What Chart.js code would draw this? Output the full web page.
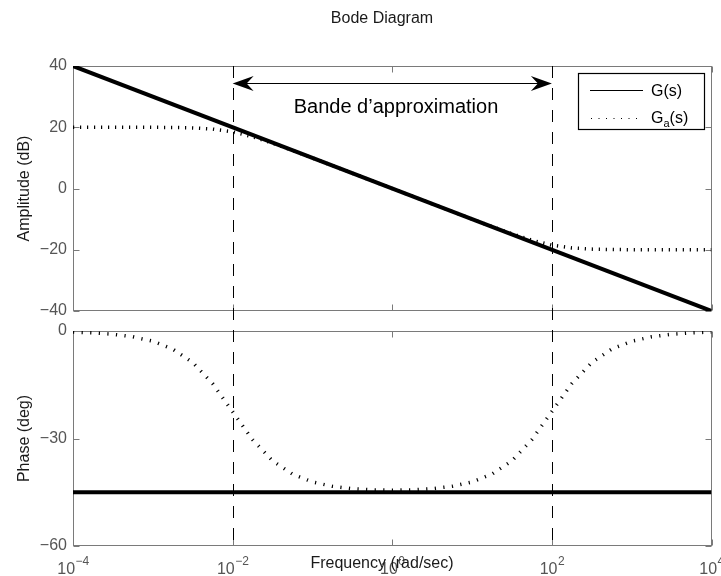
<!DOCTYPE html>
<html>
<head>
<meta charset="utf-8">
<title>Bode Diagram</title>
<style>
  html, body { margin: 0; padding: 0; background: #fff; }
  #wrap { width: 721px; height: 576px; }
</style>
<script src="https://cdn.jsdelivr.net/npm/chart.js@4.4.1/dist/chart.umd.min.js"></script>
</head>
<body>
<div id="wrap"><canvas id="bode" width="721" height="576"></canvas></div>
<script>
// Frequencies (rad/sec), quarter-decade steps
const freq = [1e-4, 1.778e-4, 3.162e-4, 5.623e-4, 1e-3, 1.778e-3, 3.162e-3, 5.623e-3,
              1e-2, 1.778e-2, 3.162e-2, 5.623e-2, 0.1, 0.1778, 0.3162, 0.5623,
              1, 1.778, 3.162, 5.623, 10, 17.78, 31.62, 56.23,
              100, 177.8, 316.2, 562.3, 1000, 1778, 3162, 5623, 1e4];
// Approximation Ga(s): gain (dB) and phase (deg)
const magGa = [20.00, 20.00, 20.00, 19.99, 19.98, 19.93, 19.79, 19.40,
               18.49, 16.90, 14.79, 12.43, 9.98, 7.49, 5.00, 2.50,
               0.00, -2.50, -5.00, -7.49, -9.98, -12.43, -14.79, -16.90,
               -18.49, -19.40, -19.79, -19.93, -19.98, -19.99, -20.00, -20.00, -20.00];
const phaseGa = [-0.29, -0.51, -0.91, -1.61, -2.86, -5.04, -8.78, -14.68,
                 -22.50, -30.31, -36.22, -39.94, -42.12, -43.34, -44.01, -44.33,
                 -44.43, -44.33, -44.01, -43.34, -42.12, -39.94, -36.22, -30.31,
                 -22.50, -14.68, -8.78, -5.04, -2.86, -1.61, -0.91, -0.51, -0.29];
// Fractional integrator G(s): straight -10 dB/dec gain, constant -45 deg phase
const freqG = [1e-4, 1e4];
const magG = [40, -40];
const phaseG = [-45, -45];
// Approximation band edges (rad/sec)
const band = [1e-2, 1e2];
// Tick values
const magTicks = [-40, -20, 0, 20, 40];
const phaseTicks = [-60, -30, 0];
const freqExponents = [-4, -2, 0, 2, 4];

const FONT = "'Liberation Sans', Arial, Helvetica, sans-serif";
const FRAME = '#7a7a7a';
const TICKTXT = '#555555';
const minus = v => (v < 0 ? '\u2212' + Math.abs(v) : String(v));
const pts = (xs, ys) => xs.map((x, i) => ({ x, y: ys[i] }));

const bodeDecor = {
  id: 'bodeDecor',
  beforeDatasetsDraw(chart) {
    const { ctx, scales } = chart;
    const xs = scales.x;
    ctx.save();
    ctx.strokeStyle = FRAME;
    ctx.lineWidth = 1;
    [['yMag', magTicks], ['yPhase', phaseTicks]].forEach(([id, ticks]) => {
      const s = scales[id];
      const L = Math.round(xs.left) + 0.5, R = Math.round(xs.right) - 0.5;
      const T = Math.round(s.top) + 0.5, B = Math.round(s.bottom) - 0.5;
      ctx.strokeRect(L, T, R - L, B - T);
      ctx.beginPath();
      ticks.forEach(v => {
        const y = Math.round(s.getPixelForValue(v)) + 0.5;
        ctx.moveTo(L, y); ctx.lineTo(L + 6, y);
        ctx.moveTo(R, y); ctx.lineTo(R - 6, y);
      });
      freqExponents.forEach(e => {
        const x = Math.round(xs.getPixelForValue(Math.pow(10, e))) + 0.5;
        ctx.moveTo(x, T); ctx.lineTo(x, T + 6);
        ctx.moveTo(x, B); ctx.lineTo(x, B - 6);
      });
      ctx.stroke();
    });
    ctx.restore();
  },
  afterDatasetsDraw(chart) {
    const { ctx, scales } = chart;
    const xs = scales.x, ym = scales.yMag, yp = scales.yPhase;
    ctx.save();
    // band limits
    ctx.strokeStyle = '#000';
    ctx.lineWidth = 1;
    ctx.setLineDash([12, 10]);
    band.forEach(f => {
      const x = Math.round(xs.getPixelForValue(f)) + 0.5;
      ctx.beginPath();
      ctx.moveTo(x, ym.top);
      ctx.lineTo(x, yp.bottom);
      ctx.stroke();
    });
    ctx.setLineDash([]);

    // legend box
    const bx = 578.5, by = 73.5, bw = 126, bh = 56;
    ctx.fillStyle = '#fff';
    ctx.fillRect(bx, by, bw, bh);
    ctx.strokeStyle = '#000';
    ctx.lineWidth = 1.2;
    ctx.strokeRect(bx, by, bw, bh);
    ctx.lineWidth = 1;
    ctx.beginPath();
    ctx.moveTo(590, 90.5); ctx.lineTo(643, 90.5);
    ctx.stroke();
    ctx.setLineDash([1, 6.5]);
    ctx.beginPath();
    ctx.moveTo(591, 118.5); ctx.lineTo(643, 118.5);
    ctx.stroke();
    ctx.setLineDash([]);
    ctx.fillStyle = '#000';
    ctx.textAlign = 'left';
    ctx.textBaseline = 'alphabetic';
    ctx.font = `16px ${FONT}`;
    ctx.fillText('G(s)', 651, 96);
    ctx.fillText('G', 651, 123);
    const wG = ctx.measureText('G').width;
    ctx.font = `11px ${FONT}`;
    ctx.fillText('a', 651 + wG, 127);
    const wa = ctx.measureText('a').width;
    ctx.font = `16px ${FONT}`;
    ctx.fillText('(s)', 651 + wG + wa, 123);
    ctx.restore();
  },
  afterDraw(chart) {
    const { ctx, scales } = chart;
    const xs = scales.x;
    ctx.save();

    // double arrow across the approximation band
    const x1 = xs.getPixelForValue(band[0]), x2 = xs.getPixelForValue(band[1]);
    const ay = 83.5;
    ctx.strokeStyle = '#000';
    ctx.fillStyle = '#000';
    ctx.lineWidth = 1;
    ctx.beginPath();
    ctx.moveTo(x1 + 10, ay); ctx.lineTo(x2 - 10, ay);
    ctx.stroke();
    [[x1, 1], [x2, -1]].forEach(([x, d]) => {
      ctx.beginPath();
      ctx.moveTo(x, ay);
      ctx.lineTo(x + d * 21, ay - 7.5);
      ctx.lineTo(x + d * 14, ay);
      ctx.lineTo(x + d * 21, ay + 7.5);
      ctx.closePath();
      ctx.fill();
    });
    ctx.textAlign = 'center';
    ctx.textBaseline = 'alphabetic';
    ctx.font = `20px ${FONT}`;
    ctx.fillText('Bande d\u2019approximation', 396, 113);

    // title
    ctx.fillStyle = '#1a1a1a';
    ctx.font = `16px ${FONT}`;
    ctx.fillText('Bode Diagram', 382, 23);

    // frequency tick labels (powers of ten)
    ctx.fillStyle = TICKTXT;
    ctx.textAlign = 'left';
    freqExponents.forEach(e => {
      const x = xs.getPixelForValue(Math.pow(10, e));
      const base = '10', exp = minus(e);
      ctx.font = `16px ${FONT}`;
      const wb = ctx.measureText(base).width;
      ctx.font = `12px ${FONT}`;
      const we = ctx.measureText(exp).width;
      const x0 = x - (wb + we) / 2;
      ctx.font = `16px ${FONT}`;
      ctx.fillText(base, x0, 574);
      ctx.font = `12px ${FONT}`;
      ctx.fillText(exp, x0 + wb + 0.5, 565);
    });

    // x axis label
    ctx.fillStyle = '#1a1a1a';
    ctx.textAlign = 'center';
    ctx.font = `16px ${FONT}`;
    ctx.fillText('Frequency (rad/sec)', 382, 568);
    ctx.restore();
  }
};

const yAxis = (extra) => Object.assign({
  type: 'linear',
  position: 'left',
  stack: 'bode',
  grid: { display: false, drawTicks: false },
  border: { display: false },
  afterFit: s => { s.width = 73; }
}, extra);

const chart = new Chart(document.getElementById('bode'), {
  type: 'line',
  data: {
    datasets: [
      { label: 'G(s)', data: pts(freqG, magG), yAxisID: 'yMag',
        borderColor: '#000', borderWidth: 4, pointRadius: 0, tension: 0 },
      { label: 'Ga(s)', data: pts(freq, magGa), yAxisID: 'yMag',
        borderColor: '#000', borderWidth: 3.5, borderDash: [1.2, 5.8], pointRadius: 0, tension: 0 },
      { label: 'G(s) phase', data: pts(freqG, phaseG), yAxisID: 'yPhase',
        borderColor: '#000', borderWidth: 4, pointRadius: 0, tension: 0 },
      { label: 'Ga(s) phase', data: pts(freq, phaseGa), yAxisID: 'yPhase',
        borderColor: '#000', borderWidth: 3.5, borderDash: [1.2, 7.4], pointRadius: 0, tension: 0 }
    ]
  },
  options: {
    responsive: false,
    animation: false,
    devicePixelRatio: 1,
    layout: { padding: { top: 66, right: 9.5, bottom: 0, left: 0 } },
    plugins: { legend: { display: false }, tooltip: { enabled: false }, title: { display: false } },
    scales: {
      x: {
        type: 'logarithmic', position: 'bottom', min: 1e-4, max: 1e4,
        grid: { display: false, drawTicks: false },
        border: { display: false },
        ticks: { display: false },
        afterFit: s => { s.height = 30; }
      },
      yPhase: yAxis({
        stackWeight: 215, weight: 1, min: -60, max: 0,
        afterBuildTicks: s => { s.ticks = phaseTicks.map(v => ({ value: v })); },
        ticks: { padding: 6, color: TICKTXT, font: { family: FONT, size: 16 }, callback: v => minus(v) },
        title: { display: true, text: 'Phase (deg)', color: '#1a1a1a',
                 font: { family: FONT, size: 16 }, padding: { top: 15, bottom: 0 } }
      }),
      yGap: yAxis({
        stackWeight: 20, weight: 2, min: 0, max: 1,
        ticks: { display: false }
      }),
      yMag: yAxis({
        stackWeight: 245, weight: 3, min: -40, max: 40,
        afterBuildTicks: s => { s.ticks = magTicks.map(v => ({ value: v })); },
        ticks: { padding: 6, color: TICKTXT, font: { family: FONT, size: 16 }, callback: v => minus(v) },
        title: { display: true, text: 'Amplitude (dB)', color: '#1a1a1a',
                 font: { family: FONT, size: 16 }, padding: { top: 15, bottom: 0 } }
      })
    }
  },
  plugins: [bodeDecor]
});
</script>
</body>
</html>
